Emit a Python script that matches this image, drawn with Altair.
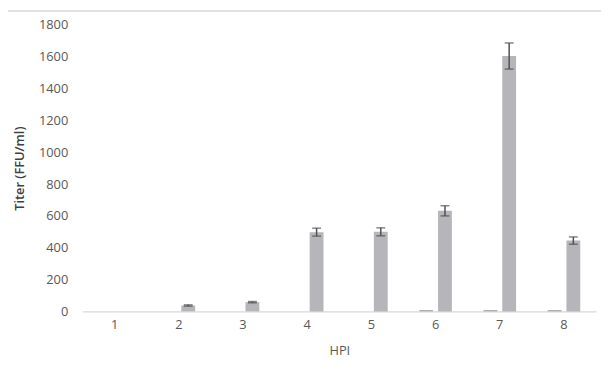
import altair as alt
import pandas as pd

hpi = [1, 2, 3, 4, 5, 6, 7, 8]
series_names = ["Mock", "Infected"]
mock = [0, 0, 0, 0, 0, 8, 8, 8]
mock_err = [0, 0, 0, 0, 0, 0, 0, 0]
infected = [0, 37, 58, 498, 500, 632, 1605, 445]
infected_err = [0, 4, 4, 25, 25, 32, 82, 23]
y_ticks = [0, 200, 400, 600, 800, 1000, 1200, 1400, 1600, 1800]

rows = []
for i, h in enumerate(hpi):
    rows.append({"HPI": str(h), "Series": series_names[0], "Titer": mock[i],
                 "lo": mock[i] - mock_err[i], "hi": mock[i] + mock_err[i], "err": mock_err[i]})
    rows.append({"HPI": str(h), "Series": series_names[1], "Titer": infected[i],
                 "lo": infected[i] - infected_err[i], "hi": infected[i] + infected_err[i], "err": infected_err[i]})
df = pd.DataFrame(rows)

FONT = "Open Sans"
LABEL_COLOR = "#595959"

x_enc = alt.X("HPI:N", sort=[str(h) for h in hpi],
              scale=alt.Scale(paddingInner=0.4923, paddingOuter=0.24615),
              axis=alt.Axis(title="HPI", labelAngle=0, ticks=False, labelPadding=7,
                            titlePadding=14, domainColor="#d9d9d9", domainWidth=1.5,
                            labelColor=LABEL_COLOR, titleColor=LABEL_COLOR,
                            labelFont=FONT, titleFont=FONT, labelFontSize=13,
                            titleFontSize=13, titleFontWeight="normal"))
xo_enc = alt.XOffset("Series:N", sort=series_names,
                     scale=alt.Scale(paddingInner=0.263, paddingOuter=0))

y_axis = alt.Axis(title="Titer (FFU/ml)", values=y_ticks, format="d", labelOverlap=False,
                  grid=False, ticks=False,
                  domain=False, labelPadding=15, titlePadding=12,
                  labelColor=LABEL_COLOR, titleColor="#404040",
                  labelFont=FONT, titleFont=FONT, labelFontSize=13,
                  titleFontSize=13, titleFontWeight=600)
y_scale = alt.Scale(domain=[0, 1800])

base = alt.Chart(df)

bars = base.mark_bar().encode(
    x=x_enc,
    xOffset=xo_enc,
    y=alt.Y("Titer:Q", scale=y_scale, axis=y_axis),
    color=alt.Color("Series:N", sort=series_names,
                    scale=alt.Scale(domain=series_names, range=["#a6a6a6", "#b6b6ba"]),
                    legend=None),
)

err_df = base.transform_filter("datum.err > 0")

err_rule = err_df.mark_rule(color="#505050", strokeWidth=1.5).encode(
    x=x_enc, xOffset=xo_enc, y=alt.Y("lo:Q", scale=y_scale, axis=y_axis), y2="hi:Q")
cap_hi = err_df.mark_tick(color="#505050", thickness=1.5, size=9, orient="horizontal").encode(
    x=x_enc, xOffset=xo_enc, y=alt.Y("hi:Q", scale=y_scale, axis=y_axis))
cap_lo = err_df.mark_tick(color="#505050", thickness=1.5, size=9, orient="horizontal").encode(
    x=x_enc, xOffset=xo_enc, y=alt.Y("lo:Q", scale=y_scale, axis=y_axis))

top_line = alt.Chart(pd.DataFrame({"a": [0]})).mark_rule(color="#d9d9d9", strokeWidth=1.5).encode(
    x=alt.value(-76), x2=alt.value(525), y=alt.value(-14.2))

chart = alt.layer(bars, err_rule, cap_hi, cap_lo, top_line).properties(
    width=520, height=290,
    background="white",
    autosize=alt.AutoSizeParams(type="none"),
    padding={"left": 75.5, "top": 15, "right": 5, "bottom": 45},
).configure_view(stroke=None)

chart.save("out.html", embed_options={"renderer": "svg", "actions": False})
